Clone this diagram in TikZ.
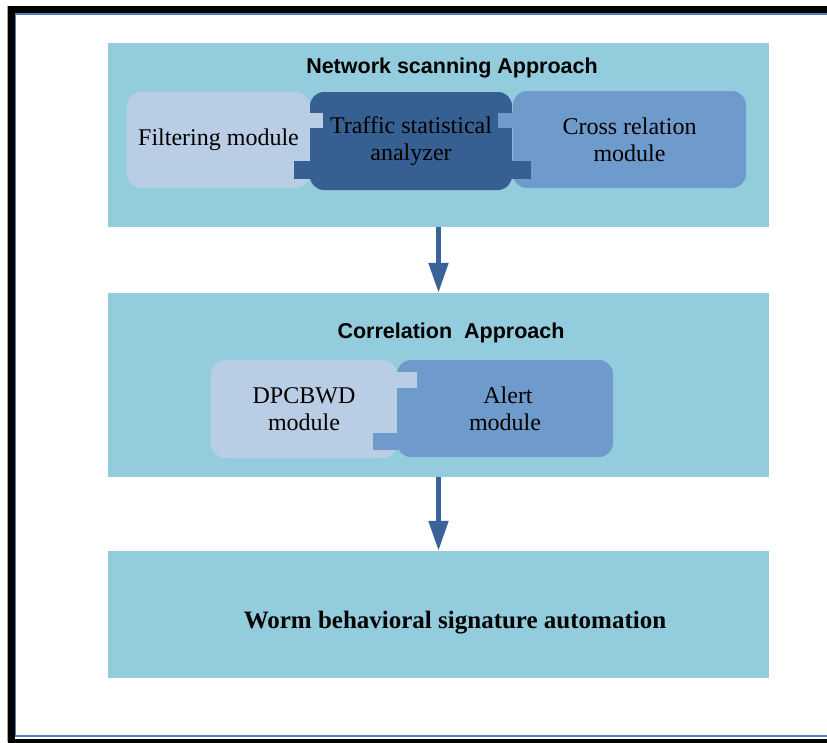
\documentclass[tikz,border=0pt]{standalone}
\usepackage{fontspec}
\setmainfont{Liberation Serif}
\setsansfont{Liberation Sans}
\usepackage{xcolor}
\usepackage{tikz}
\usetikzlibrary{arrows.meta,calc}

\definecolor{panelblue}{HTML}{93CDDD}
\definecolor{palemod}{HTML}{B9CDE5}
\definecolor{darkmod}{HTML}{376092}
\definecolor{midmod}{HTML}{6F9BCC}
\definecolor{arrowblue}{HTML}{3A6499}
\definecolor{frameblue}{HTML}{4F81BD}

\begin{document}
\begin{tikzpicture}[x=1pt, y=-1pt,
    panel/.style={fill=panelblue, minimum width=661pt, inner sep=0pt},
    module/.style={rounded corners=14pt, inner sep=0pt, align=center,
      font=\fontsize{24}{27}\selectfont},
    paneltitle/.style={font=\sffamily\bfseries\fontsize{21.5}{24}\selectfont},
    flow/.style={draw=arrowblue, line width=5pt, -{Triangle[length=30pt, width=19pt]}}]
    \useasboundingbox[fill=white] (0,0) rectangle (827,742);

    % page frame
    \draw[black!35, line width=1pt] (7.5,742) -- (7.5,6);
    \draw[line width=7pt] (11.5,745) -- (11.5,9.5) -- (835,9.5);
    \draw[line width=4pt] (8,741) -- (835,741);
    \draw[frameblue, line width=1.5pt] (835,13.8) -- (15.3,13.8) -- (15.3,736) -- (835,736);

    % network scanning
    \node[panel, minimum height=184pt] (scan) at (438.5,135) {};
    \node[paneltitle] (scantitle) at (452,68) {Network scanning Approach};
    \node[module, fill=palemod, minimum width=183pt, minimum height=96pt] (filter) at (218.5,140) {Filtering module};
    \node[module, fill=darkmod, minimum width=202pt, minimum height=98pt] (traffic) at (411,141) {Traffic statistical\\analyzer};
    \node[module, fill=midmod, minimum width=233pt, minimum height=97pt] (cross) at (629.5,139.5) {Cross relation\\module};
    \fill[palemod] ($(filter.north east)+(-2,21)$) rectangle ++(15,15);
    \fill[darkmod] ($(traffic.south west)+(-16,-29)$) rectangle ++(17,18);
    \fill[midmod] ($(cross.north west)+(-15,22)$) rectangle ++(16,15);
    \fill[darkmod] ($(traffic.south east)+(-1,-29)$) rectangle ++(20,18);

    % correlation
    \node[panel, minimum height=184pt] (corr) at (438.5,385) {};
    \node[paneltitle] (corrtitle) at (451,333) {Correlation\ \ Approach};
    \node[module, fill=palemod, minimum width=186pt, minimum height=98pt] (dpcbwd) at (304,409) {DPCBWD\\module};
    \node[module, fill=midmod, minimum width=216pt, minimum height=97pt] (alert) at (505,408.5) {\hspace{6pt}Alert\\module};
    \fill[palemod] ($(dpcbwd.north east)+(-2,12)$) rectangle ++(22,16);
    \fill[midmod] ($(alert.south west)+(-24,-24)$) rectangle ++(25,17);

    % signature
    \node[panel, minimum height=127pt] (sig) at (438.5,614.5) {};
    \node[font=\bfseries\fontsize{25}{28}\selectfont] (sigtext) at (455,623) {Worm behavioral signature automation};

    \draw[flow] (scan.south) -- (corr.north);
    \draw[flow] (corr.south) -- (sig.north);
\end{tikzpicture}
\end{document}
